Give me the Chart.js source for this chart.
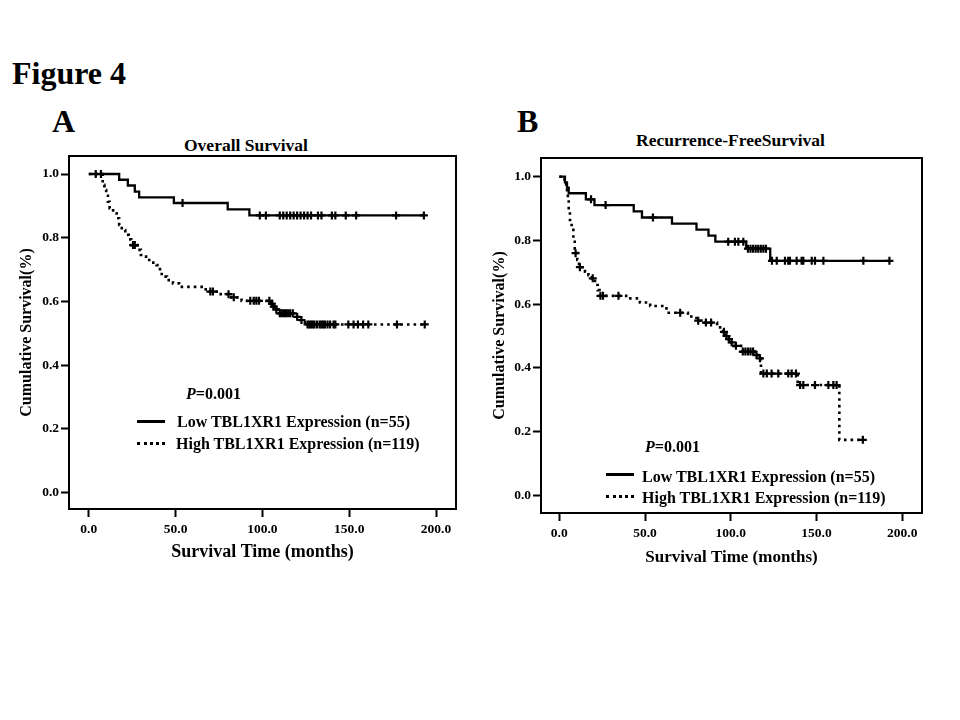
<!DOCTYPE html>
<html><head><meta charset="utf-8">
<script src="https://cdn.jsdelivr.net/npm/chart.js@4.4.0/dist/chart.umd.min.js"></script>
<style>
html,body{margin:0;padding:0;background:#fff;}
body{width:960px;height:720px;position:relative;overflow:hidden;font-family:'Liberation Serif','Times New Roman',serif;font-weight:bold;color:#000;}
.t{position:absolute;white-space:nowrap;line-height:1;}
.ln{position:absolute;width:28px;height:0;}
canvas{position:absolute;}
</style></head><body>
<div class="t" style="left:12px;top:57px;font-size:32px">Figure 4</div>
<div class="t" style="left:52px;top:105px;font-size:32px">A</div>
<div class="t" style="left:517px;top:105px;font-size:32px">B</div>
<div class="t" style="left:184px;top:137px;font-size:17.5px">Overall Survival</div>
<div class="t" style="left:636px;top:132px;font-size:17.5px">Recurrence-FreeSurvival</div>

<canvas id="chartA" width="480" height="450" style="left:0;top:120px;width:480px;height:450px"></canvas>
<canvas id="chartB" width="480" height="450" style="left:480px;top:120px;width:480px;height:450px"></canvas>

<div class="t" style="left:186px;top:386px;font-size:16px"><i>P</i>=0.001</div>
<div class="ln" style="left:137px;top:420px;border-top:3px solid #000"></div>
<div class="t" style="left:177px;top:414px;font-size:16px">Low TBL1XR1 Expression (n=55)</div>
<div class="ln" style="left:137px;top:442px;border-top:3px dotted #000"></div>
<div class="t" style="left:176px;top:436px;font-size:16px">High TBL1XR1 Expression (n=119)</div>

<div class="t" style="left:645px;top:439px;font-size:16px"><i>P</i>=0.001</div>
<div class="ln" style="left:606px;top:473px;border-top:3px solid #000"></div>
<div class="t" style="left:642px;top:469px;font-size:16px">Low TBL1XR1 Expression (n=55)</div>
<div class="ln" style="left:606px;top:495px;border-top:3px dotted #000"></div>
<div class="t" style="left:642px;top:490px;font-size:16px">High TBL1XR1 Expression (n=119)</div>

<script>
// ---- tick values ----
const yTickVals = [0, 0.2, 0.4, 0.6, 0.8, 1.0];
const xTickVals = [0, 50, 100, 150, 200];

// ---- Panel A: Overall Survival ----
const aLowT = [0, 17.5, 22.5, 26.5, 29, 49, 80, 92.5, 193];
const aLowS = [1.0, 0.982, 0.964, 0.945, 0.927, 0.909, 0.889, 0.870, 0.870];
const aLowCensT = [54, 98.5, 102, 110, 112, 114, 116, 118, 120, 122, 124, 126, 128, 132, 134, 140, 142, 148, 154, 177, 193];
const aLowCensS = [0.909, 0.870, 0.870, 0.870, 0.870, 0.870, 0.870, 0.870, 0.870, 0.870, 0.870, 0.870, 0.870, 0.870, 0.870, 0.870, 0.870, 0.870, 0.870, 0.870, 0.870];

const aHighT = [0, 8, 9, 10, 11, 12, 14, 16, 17.5, 19, 21, 23, 24.5, 28, 30, 33, 36, 39, 41, 42, 45, 48.5, 52, 66, 69, 75, 82, 88, 105, 106, 107, 109, 119, 121.5, 124.5, 193.5];
const aHighS = [1.0, 0.966, 0.950, 0.932, 0.913, 0.892, 0.877, 0.861, 0.840, 0.824, 0.809, 0.795, 0.777, 0.762, 0.746, 0.730, 0.722, 0.714, 0.693, 0.678, 0.667, 0.657, 0.646, 0.638, 0.631, 0.623, 0.613, 0.602, 0.593, 0.584, 0.575, 0.563, 0.552, 0.542, 0.528, 0.528];
const aHighCensT = [4, 7, 25.5, 26.5, 70, 71.5, 80.5, 83.5, 93, 95, 96.5, 98, 104, 105.5, 106.5, 108, 110, 111, 112, 113, 114, 115, 116, 117.5, 120, 122.5, 126, 127, 128, 129, 130, 131.5, 133, 134, 135, 136, 137.5, 139, 141, 142, 149.5, 152.5, 155, 158, 161, 177.5, 193.5];
const aHighCensS = [1.0, 1.0, 0.777, 0.777, 0.631, 0.631, 0.623, 0.613, 0.602, 0.602, 0.602, 0.602, 0.602, 0.593, 0.584, 0.575, 0.563, 0.563, 0.563, 0.563, 0.563, 0.563, 0.563, 0.563, 0.552, 0.542, 0.528, 0.528, 0.528, 0.528, 0.528, 0.528, 0.528, 0.528, 0.528, 0.528, 0.528, 0.528, 0.528, 0.528, 0.528, 0.528, 0.528, 0.528, 0.528, 0.528, 0.528];

// ---- Panel B: Recurrence-Free Survival ----
const bLowT = [0, 3.3, 4.5, 5.5, 15.5, 20.5, 43.4, 48.2, 65.7, 80, 87, 91, 109, 123, 192.5];
const bLowS = [1.0, 0.982, 0.966, 0.948, 0.929, 0.911, 0.891, 0.872, 0.853, 0.834, 0.815, 0.796, 0.774, 0.736, 0.736];
const bLowCensT = [18.5, 27, 54.6, 98.5, 102.4, 104.4, 107.3, 110, 111.5, 113, 114.5, 116, 117.5, 119, 120.5, 124, 126.8, 131.6, 133.5, 134.5, 138.4, 141.3, 142.3, 147.2, 149.1, 154, 177.3, 192.5];
const bLowCensS = [0.929, 0.911, 0.872, 0.796, 0.796, 0.796, 0.796, 0.774, 0.774, 0.774, 0.774, 0.774, 0.774, 0.774, 0.774, 0.736, 0.736, 0.736, 0.736, 0.736, 0.736, 0.736, 0.736, 0.736, 0.736, 0.736, 0.736, 0.736];

const bHighT = [0, 3, 4, 4.5, 5, 5.5, 6.2, 7.2, 8.2, 9, 10.5, 11.5, 15, 17, 19, 20.8, 22.4, 23.5, 39, 47, 53, 62.5, 75, 80, 83, 92, 95.5, 97, 98.5, 99.5, 101.5, 106, 114, 116, 117.6, 139, 163.3, 177];
const bHighS = [1.0, 0.983, 0.966, 0.948, 0.927, 0.896, 0.864, 0.833, 0.796, 0.760, 0.739, 0.716, 0.702, 0.691, 0.681, 0.660, 0.644, 0.626, 0.618, 0.605, 0.594, 0.573, 0.561, 0.548, 0.542, 0.527, 0.513, 0.500, 0.490, 0.480, 0.469, 0.451, 0.440, 0.430, 0.382, 0.346, 0.174, 0.174];
const bHighCensT = [9.5, 12, 19.5, 24, 25.5, 34.5, 70.5, 81, 85.5, 88.5, 96, 97.5, 99, 100.5, 103, 107, 108.5, 110, 111.5, 113, 115, 117, 119, 121, 123.8, 127.7, 133.5, 135.5, 138, 140.4, 142.3, 149.1, 156.9, 159.8, 161.7, 177];
const bHighCensS = [0.760, 0.716, 0.681, 0.626, 0.626, 0.626, 0.573, 0.548, 0.542, 0.542, 0.513, 0.500, 0.490, 0.480, 0.469, 0.451, 0.451, 0.451, 0.451, 0.451, 0.440, 0.430, 0.382, 0.382, 0.382, 0.382, 0.382, 0.382, 0.382, 0.346, 0.346, 0.346, 0.346, 0.346, 0.346, 0.174];

const FONT = "'Liberation Serif', 'Times New Roman', serif";

const boxPlugin = {
  id: 'plotBox',
  afterDraw(chart) {
    const {ctx, chartArea: a} = chart;
    ctx.save();
    ctx.strokeStyle = '#000';
    ctx.lineWidth = 2;
    ctx.strokeRect(a.left, a.top, a.right - a.left, a.bottom - a.top);
    ctx.restore();
  }
};

function pts(T, S) { return T.map((t, i) => ({x: t, y: S[i]})); }

function build(id, g) {
  return new Chart(document.getElementById(id), {
    type: 'scatter',
    data: { datasets: [
      { label: 'Low TBL1XR1 Expression (n=55)', data: pts(g.lowT, g.lowS), showLine: true, stepped: true,
        borderColor: '#000', borderWidth: 2.3, pointRadius: 0, fill: false },
      { label: 'High TBL1XR1 Expression (n=119)', data: pts(g.highT, g.highS), showLine: true, stepped: true,
        borderColor: '#000', borderWidth: 2.6, borderDash: [2.6, 4], borderCapStyle: 'butt', pointRadius: 0, fill: false },
      { label: 'Low censored', data: pts(g.lowCT, g.lowCS), showLine: false, pointStyle: 'cross',
        pointRadius: 4, pointBorderWidth: 2.2, borderColor: '#000', backgroundColor: '#000' },
      { label: 'High censored', data: pts(g.highCT, g.highCS), showLine: false, pointStyle: 'cross',
        pointRadius: 4, pointBorderWidth: 2.2, borderColor: '#000', backgroundColor: '#000' }
    ]},
    options: {
      responsive: false,
      animation: false,
      events: [],
      layout: { padding: g.pad },
      plugins: { legend: { display: false }, tooltip: { enabled: false }, title: { display: false } },
      scales: {
        x: {
          type: 'linear', min: g.xMin, max: g.xMax,
          afterFit: s => { s.height = g.xH; },
          afterBuildTicks: s => { s.ticks = xTickVals.map(v => ({value: v})); },
          ticks: { callback: v => Number(v).toFixed(1), color: '#000', padding: 4, maxRotation: 0, autoSkip: false,
                   font: { family: FONT, size: 13.5, weight: 'bold' } },
          grid: { drawOnChartArea: false, drawTicks: true, tickLength: 8, tickWidth: 2, tickColor: '#000' },
          border: { display: false },
          title: { display: true, text: 'Survival Time (months)', color: '#000',
                   font: { family: FONT, size: g.xTitleSize, weight: 'bold' }, padding: { top: 0, bottom: g.xTitlePadB } }
        },
        y: {
          type: 'linear', min: g.yMin, max: g.yMax,
          afterFit: s => { s.width = g.yW; },
          afterBuildTicks: s => { s.ticks = yTickVals.map(v => ({value: v})); },
          ticks: { callback: v => Number(v).toFixed(1), color: '#000', padding: 2, autoSkip: false,
                   font: { family: FONT, size: 13.5, weight: 'bold' } },
          grid: { drawOnChartArea: false, drawTicks: true, tickLength: 8, tickWidth: 2, tickColor: '#000' },
          border: { display: false },
          title: { display: true, text: 'Cumulative Survival(%)', color: '#000',
                   font: { family: FONT, size: 16, weight: 'bold' }, padding: { top: g.yTitlePadT, bottom: 0 } }
        }
      }
    },
    plugins: [boxPlugin]
  });
}

build('chartA', {
  lowT: aLowT, lowS: aLowS, highT: aHighT, highS: aHighS,
  lowCT: aLowCensT, lowCS: aLowCensS, highCT: aHighCensT, highCS: aHighCensS,
  pad: { left: 0, right: 24, top: 36, bottom: 0 },
  xMin: -11.4, xMax: 211.5, yMin: -0.051, yMax: 1.0565,
  xH: 61, yW: 69, xTitleSize: 18, xTitlePadB: 6.4, yTitlePadT: 17.4
});

build('chartB', {
  lowT: bLowT, lowS: bLowS, highT: bHighT, highS: bHighS,
  lowCT: bLowCensT, lowCS: bLowCensS, highCT: bHighCensT, highCS: bHighCensS,
  pad: { left: 0, right: 38, top: 38, bottom: 0 },
  xMin: -10.67, xMax: 211.5, yMin: -0.0556, yMax: 1.0587,
  xH: 57, yW: 61, xTitleSize: 17, xTitlePadB: 1.7, yTitlePadT: 10
});
</script>
</body></html>
